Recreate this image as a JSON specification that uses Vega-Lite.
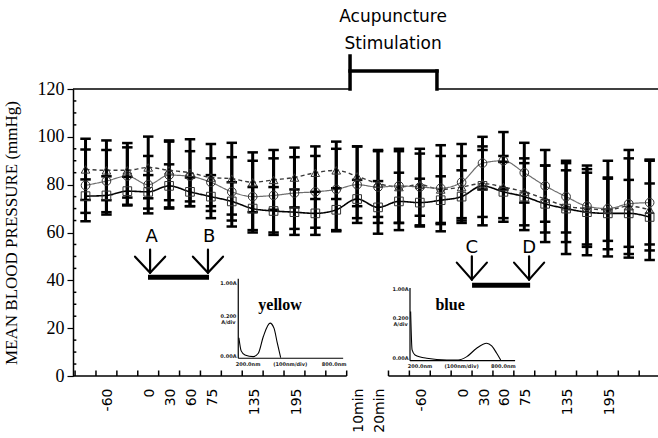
{
  "$schema": "https://vega.github.io/schema/vega-lite/v6.json",
  "width": 585,
  "height": 287,
  "autosize": "none",
  "padding": {"left": 73, "top": 89, "right": 0, "bottom": 62},
  "background": "white",
  "config": {
    "view": {"stroke": null},
    "axis": {"grid": false, "labelOverlap": false}
  },
  "datasets": {
    "bp": [
      {"slot":0,"group":"triangle","mean":86.4,"lo":73.6,"hi":99.2},{"slot":0,"group":"circle","mean":79.7,"lo":64.7,"hi":94.7},{"slot":0,"group":"square","mean":75.2,"lo":68.2,"hi":82.2},
      {"slot":1,"group":"triangle","mean":86,"lo":73.5,"hi":98.5},{"slot":1,"group":"circle","mean":81.5,"lo":68.5,"hi":94.5},{"slot":1,"group":"square","mean":75.5,"lo":67.5,"hi":83.5},
      {"slot":2,"group":"triangle","mean":86,"lo":74.6,"hi":97.4},{"slot":2,"group":"circle","mean":83.6,"lo":71.6,"hi":95.6},{"slot":2,"group":"square","mean":77.3,"lo":71.3,"hi":83.3},
      {"slot":3,"group":"triangle","mean":87.2,"lo":74.3,"hi":100.1},{"slot":3,"group":"circle","mean":80,"lo":68,"hi":92},{"slot":3,"group":"square","mean":77,"lo":70,"hi":84},
      {"slot":4,"group":"triangle","mean":86,"lo":73.5,"hi":98.5},{"slot":4,"group":"circle","mean":84,"lo":70,"hi":98},{"slot":4,"group":"square","mean":79.5,"lo":70.5,"hi":88.5},
      {"slot":5,"group":"triangle","mean":85,"lo":71,"hi":99},{"slot":5,"group":"circle","mean":83.5,"lo":73,"hi":94},{"slot":5,"group":"square","mean":77,"lo":71,"hi":83},
      {"slot":6,"group":"triangle","mean":83,"lo":69,"hi":97},{"slot":6,"group":"circle","mean":81,"lo":71,"hi":91},{"slot":6,"group":"square","mean":75,"lo":66,"hi":84},
      {"slot":7,"group":"triangle","mean":82.5,"lo":67.5,"hi":97.5},{"slot":7,"group":"circle","mean":77,"lo":62.5,"hi":91.5},{"slot":7,"group":"square","mean":73,"lo":65,"hi":81},
      {"slot":8,"group":"triangle","mean":81,"lo":68.5,"hi":93.5},{"slot":8,"group":"circle","mean":75,"lo":60,"hi":90},{"slot":8,"group":"square","mean":70,"lo":61,"hi":79},
      {"slot":9,"group":"triangle","mean":82,"lo":69.5,"hi":94.5},{"slot":9,"group":"circle","mean":75.5,"lo":60,"hi":91},{"slot":9,"group":"square","mean":69,"lo":59,"hi":79},
      {"slot":10,"group":"triangle","mean":83,"lo":70.5,"hi":95.5},{"slot":10,"group":"circle","mean":76.5,"lo":61.5,"hi":91.5},{"slot":10,"group":"square","mean":68.5,"lo":59,"hi":78},
      {"slot":11,"group":"triangle","mean":85,"lo":74,"hi":96},{"slot":11,"group":"circle","mean":77,"lo":62,"hi":92},{"slot":11,"group":"square","mean":68,"lo":59,"hi":77},
      {"slot":12,"group":"triangle","mean":86,"lo":74,"hi":98},{"slot":12,"group":"circle","mean":78,"lo":61,"hi":95},{"slot":12,"group":"square","mean":69.5,"lo":60.5,"hi":78.5},
      {"slot":13,"group":"triangle","mean":83.5,"lo":71,"hi":96},{"slot":13,"group":"circle","mean":80,"lo":64,"hi":96},{"slot":13,"group":"square","mean":74,"lo":66,"hi":82},
      {"slot":14,"group":"triangle","mean":80.5,"lo":66.5,"hi":94.5},{"slot":14,"group":"circle","mean":79,"lo":64,"hi":94},{"slot":14,"group":"square","mean":70.5,"lo":59.5,"hi":81.5},
      {"slot":15,"group":"triangle","mean":79,"lo":64,"hi":94},{"slot":15,"group":"circle","mean":79.5,"lo":64,"hi":95},{"slot":15,"group":"square","mean":73,"lo":61,"hi":85},
      {"slot":16,"group":"triangle","mean":80,"lo":67,"hi":93},{"slot":16,"group":"circle","mean":79,"lo":63,"hi":95},{"slot":16,"group":"square","mean":72.5,"lo":62.5,"hi":82.5},
      {"slot":17,"group":"triangle","mean":78,"lo":64,"hi":92},{"slot":17,"group":"circle","mean":78.5,"lo":60.5,"hi":96.5},{"slot":17,"group":"square","mean":73.5,"lo":63.5,"hi":83.5},
      {"slot":18,"group":"triangle","mean":79,"lo":66,"hi":92},{"slot":18,"group":"circle","mean":81,"lo":65,"hi":97},{"slot":18,"group":"square","mean":75,"lo":64,"hi":86},
      {"slot":19,"group":"triangle","mean":80.5,"lo":66.5,"hi":94.5},{"slot":19,"group":"circle","mean":89,"lo":78,"hi":100},{"slot":19,"group":"square","mean":79.5,"lo":63,"hi":96},
      {"slot":20,"group":"triangle","mean":79,"lo":66,"hi":92},{"slot":20,"group":"circle","mean":90,"lo":78,"hi":102},{"slot":20,"group":"square","mean":77,"lo":64.5,"hi":89.5},
      {"slot":21,"group":"triangle","mean":77,"lo":63,"hi":91},{"slot":21,"group":"circle","mean":85,"lo":72.5,"hi":97.5},{"slot":21,"group":"square","mean":75,"lo":61,"hi":89},
      {"slot":22,"group":"triangle","mean":74,"lo":60,"hi":88},{"slot":22,"group":"circle","mean":79.5,"lo":64.5,"hi":94.5},{"slot":22,"group":"square","mean":72,"lo":56,"hi":88},
      {"slot":23,"group":"triangle","mean":71,"lo":56,"hi":86},{"slot":23,"group":"circle","mean":75,"lo":60,"hi":90},{"slot":23,"group":"square","mean":70,"lo":51,"hi":89},
      {"slot":24,"group":"triangle","mean":70,"lo":55,"hi":85},{"slot":24,"group":"circle","mean":71,"lo":54,"hi":88},{"slot":24,"group":"square","mean":68.5,"lo":50.5,"hi":86.5},
      {"slot":25,"group":"triangle","mean":69.5,"lo":56.5,"hi":82.5},{"slot":25,"group":"circle","mean":70,"lo":50,"hi":90},{"slot":25,"group":"square","mean":68,"lo":53,"hi":83},
      {"slot":26,"group":"triangle","mean":71,"lo":51,"hi":91},{"slot":26,"group":"circle","mean":72,"lo":49.5,"hi":94.5},{"slot":26,"group":"square","mean":68,"lo":54,"hi":82},
      {"slot":27,"group":"triangle","mean":69.5,"lo":48.5,"hi":90.5},{"slot":27,"group":"circle","mean":72.5,"lo":55,"hi":90},{"slot":27,"group":"square","mean":66.5,"lo":52.5,"hi":80.5}
    ],
    "segs": [
      {"kind":"frame","x1":-0.6,"y1":0,"x2":12.5,"y2":0},
      {"kind":"frame","x1":14.5,"y1":0,"x2":27.4,"y2":0},
      {"kind":"frame","x1":-0.6,"y1":120,"x2":12.66,"y2":120},
      {"kind":"frame","x1":16.82,"y1":120,"x2":27.4,"y2":120},
      {"kind":"bracket","x1":12.66,"y1":120,"x2":12.66,"y2":133.8},
      {"kind":"bracket","x1":12.66,"y1":127.5,"x2":16.82,"y2":127.5},
      {"kind":"bracket","x1":16.82,"y1":127.5,"x2":16.82,"y2":120},
      {"kind":"arrow","x1":3.09,"y1":52.8,"x2":3.09,"y2":43.2},
      {"kind":"arrow","x1":2.37,"y1":49.9,"x2":3.09,"y2":43.2},
      {"kind":"arrow","x1":3.81,"y1":49.9,"x2":3.09,"y2":43.2},
      {"kind":"arrow","x1":5.86,"y1":52.8,"x2":5.86,"y2":43.2},
      {"kind":"arrow","x1":5.14,"y1":49.9,"x2":5.86,"y2":43.2},
      {"kind":"arrow","x1":6.58,"y1":49.9,"x2":5.86,"y2":43.2},
      {"kind":"arrow","x1":18.49,"y1":50.0,"x2":18.49,"y2":40.3},
      {"kind":"arrow","x1":17.77,"y1":47.4,"x2":18.49,"y2":40.3},
      {"kind":"arrow","x1":19.21,"y1":47.4,"x2":18.49,"y2":40.3},
      {"kind":"arrow","x1":21.23,"y1":50.0,"x2":21.23,"y2":40.3},
      {"kind":"arrow","x1":20.51,"y1":47.4,"x2":21.23,"y2":40.3},
      {"kind":"arrow","x1":21.95,"y1":47.4,"x2":21.23,"y2":40.3},
      {"kind":"bar","x1":2.99,"y1":41.3,"x2":5.91,"y2":41.3},
      {"kind":"bar","x1":18.5,"y1":37.9,"x2":21.28,"y2":37.9},
      {"kind":"inset","x1":7.31,"y1":7.42,"x2":7.31,"y2":40.67},
      {"kind":"inset","x1":7.31,"y1":7.42,"x2":12.33,"y2":7.42},
      {"kind":"inset","x1":15.53,"y1":6.42,"x2":15.53,"y2":36.77},
      {"kind":"inset","x1":15.53,"y1":6.42,"x2":20.56,"y2":6.42},
      {"kind":"tick","x1":-0.5,"y1":0,"x2":-0.5,"y2":2.3},{"kind":"tick","x1":0.5,"y1":0,"x2":0.5,"y2":2.3},{"kind":"tick","x1":1.5,"y1":0,"x2":1.5,"y2":2.3},{"kind":"tick","x1":2.5,"y1":0,"x2":2.5,"y2":2.3},
      {"kind":"tick","x1":3.5,"y1":0,"x2":3.5,"y2":2.3},{"kind":"tick","x1":4.5,"y1":0,"x2":4.5,"y2":2.3},{"kind":"tick","x1":5.5,"y1":0,"x2":5.5,"y2":2.3},{"kind":"tick","x1":6.5,"y1":0,"x2":6.5,"y2":2.3},
      {"kind":"tick","x1":7.5,"y1":0,"x2":7.5,"y2":2.3},{"kind":"tick","x1":8.5,"y1":0,"x2":8.5,"y2":2.3},{"kind":"tick","x1":9.5,"y1":0,"x2":9.5,"y2":2.3},{"kind":"tick","x1":10.5,"y1":0,"x2":10.5,"y2":2.3},
      {"kind":"tick","x1":11.5,"y1":0,"x2":11.5,"y2":2.3},{"kind":"tick","x1":12.5,"y1":0,"x2":12.5,"y2":2.3},
      {"kind":"tick","x1":14.5,"y1":0,"x2":14.5,"y2":2.3},{"kind":"tick","x1":15.5,"y1":0,"x2":15.5,"y2":2.3},{"kind":"tick","x1":16.5,"y1":0,"x2":16.5,"y2":2.3},{"kind":"tick","x1":17.5,"y1":0,"x2":17.5,"y2":2.3},
      {"kind":"tick","x1":18.5,"y1":0,"x2":18.5,"y2":2.3},{"kind":"tick","x1":19.5,"y1":0,"x2":19.5,"y2":2.3},{"kind":"tick","x1":20.5,"y1":0,"x2":20.5,"y2":2.3},{"kind":"tick","x1":21.5,"y1":0,"x2":21.5,"y2":2.3},
      {"kind":"tick","x1":22.5,"y1":0,"x2":22.5,"y2":2.3},{"kind":"tick","x1":23.5,"y1":0,"x2":23.5,"y2":2.3},{"kind":"tick","x1":24.5,"y1":0,"x2":24.5,"y2":2.3},{"kind":"tick","x1":25.5,"y1":0,"x2":25.5,"y2":2.3},
      {"kind":"tick","x1":26.5,"y1":0,"x2":26.5,"y2":2.3},
      {"kind":"tick","x1":-0.6,"y1":5,"x2":-0.44,"y2":5},{"kind":"tick","x1":-0.6,"y1":10,"x2":-0.44,"y2":10},{"kind":"tick","x1":-0.6,"y1":15,"x2":-0.44,"y2":15},
      {"kind":"tick","x1":-0.6,"y1":25,"x2":-0.44,"y2":25},{"kind":"tick","x1":-0.6,"y1":30,"x2":-0.44,"y2":30},{"kind":"tick","x1":-0.6,"y1":35,"x2":-0.44,"y2":35},
      {"kind":"tick","x1":-0.6,"y1":45,"x2":-0.44,"y2":45},{"kind":"tick","x1":-0.6,"y1":50,"x2":-0.44,"y2":50},{"kind":"tick","x1":-0.6,"y1":55,"x2":-0.44,"y2":55},
      {"kind":"tick","x1":-0.6,"y1":65,"x2":-0.44,"y2":65},{"kind":"tick","x1":-0.6,"y1":70,"x2":-0.44,"y2":70},{"kind":"tick","x1":-0.6,"y1":75,"x2":-0.44,"y2":75},
      {"kind":"tick","x1":-0.6,"y1":85,"x2":-0.44,"y2":85},{"kind":"tick","x1":-0.6,"y1":90,"x2":-0.44,"y2":90},{"kind":"tick","x1":-0.6,"y1":95,"x2":-0.44,"y2":95},
      {"kind":"tick","x1":-0.6,"y1":105,"x2":-0.44,"y2":105},{"kind":"tick","x1":-0.6,"y1":110,"x2":-0.44,"y2":110},{"kind":"tick","x1":-0.6,"y1":115,"x2":-0.44,"y2":115}
    ],
    "spectra": [
      {"dye":"yellow","x":7.34,"y":16.0},{"dye":"yellow","x":7.45,"y":10.5},{"dye":"yellow","x":7.63,"y":8.8},{"dye":"yellow","x":8.03,"y":8.1},{"dye":"yellow","x":8.27,"y":9.5},{"dye":"yellow","x":8.51,"y":16.5},{"dye":"yellow","x":8.83,"y":22.1},{"dye":"yellow","x":9.02,"y":20.0},{"dye":"yellow","x":9.18,"y":13.7},{"dye":"yellow","x":9.34,"y":7.7},
      {"dye":"blue","x":15.56,"y":26.96},{"dye":"blue","x":15.63,"y":10.9},{"dye":"blue","x":15.77,"y":8.81},{"dye":"blue","x":16.33,"y":7.42},{"dye":"blue","x":17.29,"y":6.71},{"dye":"blue","x":17.84,"y":6.71},{"dye":"blue","x":18.25,"y":8.09},{"dye":"blue","x":18.72,"y":11.61},{"dye":"blue","x":19.2,"y":13.71},{"dye":"blue","x":19.44,"y":12.58},{"dye":"blue","x":19.68,"y":9.52},{"dye":"blue","x":19.87,"y":6.71}
    ],
    "letters": [
      {"t":"A","x":3.17,"y":58.3},{"t":"B","x":5.92,"y":58.3},{"t":"C","x":18.49,"y":53.5},{"t":"D","x":21.23,"y":53.5}
    ],
    "dyes": [
      {"t":"yellow","x":9.31,"y":29.8},{"t":"blue","x":17.45,"y":29.8}
    ],
    "tiny": [
      {"t":"1.00A","x":6.84,"y":39.0},{"t":"0.200","x":6.84,"y":25.2},{"t":"A/div","x":6.84,"y":22.6},{"t":"0.00A","x":6.84,"y":8.2},
      {"t":"200.0nm","x":7.78,"y":5.2},{"t":"(100nm/div)","x":9.8,"y":5.2},{"t":"800.0nm","x":11.9,"y":5.2},
      {"t":"1.00A","x":15.08,"y":36.5},{"t":"0.200","x":15.08,"y":24.3},{"t":"A/div","x":15.08,"y":21.8},{"t":"0.00A","x":15.08,"y":7.4},
      {"t":"200.0nm","x":16.01,"y":4.0},{"t":"(100nm/div)","x":18.0,"y":4.0},{"t":"800.0nm","x":20.0,"y":4.0}
    ],
    "stim": [
      {"t":"Acupuncture\nStimulation","x":14.72,"y":150.0}
    ]
  },
  "layer": [
    {
      "data": {"name": "bp"},
      "mark": {"type": "line", "interpolate": "monotone"},
      "encoding": {
        "x": {"field": "slot", "type": "quantitative",
          "scale": {"domain": [-0.6, 27.4], "nice": false, "zero": false},
          "axis": {
            "title": null,
            "values": [0.5,2.5,3.5,4.5,5.5,7.5,9.5,12.5,13.5,15.5,17.5,18.5,19.5,20.5,22.5,24.5],
            "tickCount": 100,
            "labelExpr": "['','-60','','0','30','60','75','','135','','195','','','10min','20min','','-60','','0','30','60','75','','135','','195','',''][datum.value + 0.5]",
            "labelAngle": -90,
            "labelOffset": 12,
            "labelPadding": 12,
            "labelOverlap": false,
            "labelFlush": false,
            "labelBound": false,
            "labelFont": "DejaVu Sans",
            "labelFontSize": 14,
            "labelColor": "black",
            "domain": false,
            "ticks": false
          }
        },
        "y": {"field": "mean", "type": "quantitative",
          "scale": {"domain": [0, 120], "nice": false},
          "axis": {
            "title": "MEAN BLOOD PRESSURE (mmHg)",
            "titleFont": "Liberation Serif",
            "titleFontSize": 17,
            "titleFontWeight": "normal",
            "titleColor": "black",
            "titlePadding": 17,
            "values": [0,20,40,60,80,100,120],
            "tickCount": 100,
            "labelFont": "Liberation Serif",
            "labelFontSize": 18,
            "labelColor": "black",
            "labelPadding": 3,
            "tickSize": 6,
            "tickWidth": 1.2,
            "tickColor": "black",
            "domainColor": "black",
            "domainWidth": 1.5
          }
        },
        "detail": {"field": "group"},
        "color": {"field": "group", "type": "nominal", "legend": null,
          "scale": {"domain": ["circle", "triangle", "square"], "range": ["#6e6e6e", "#3a3a3a", "#000000"]}},
        "strokeWidth": {"field": "group", "type": "nominal", "legend": null,
          "scale": {"domain": ["circle", "triangle", "square"], "range": [1.2, 1.6, 2.6]}},
        "strokeDash": {"field": "group", "type": "nominal", "legend": null,
          "scale": {"domain": ["circle", "triangle", "square"], "range": [[1, 0], [4, 3], [1, 0]]}}
      }
    },
    {
      "data": {"name": "bp"},
      "mark": {"type": "rule", "color": "black", "strokeWidth": 3},
      "encoding": {
        "x": {"field": "slot", "type": "quantitative"},
        "y": {"field": "lo", "type": "quantitative"},
        "y2": {"field": "hi"}
      }
    },
    {
      "data": {"name": "bp"},
      "mark": {"type": "point", "shape": "M-1,0L1,0", "size": 110, "strokeWidth": 2.5, "color": "black", "filled": false, "opacity": 1},
      "encoding": {
        "x": {"field": "slot", "type": "quantitative"},
        "y": {"field": "hi", "type": "quantitative"}
      }
    },
    {
      "data": {"name": "bp"},
      "mark": {"type": "point", "shape": "M-1,0L1,0", "size": 110, "strokeWidth": 2.5, "color": "black", "filled": false, "opacity": 1},
      "encoding": {
        "x": {"field": "slot", "type": "quantitative"},
        "y": {"field": "lo", "type": "quantitative"}
      }
    },
    {
      "data": {"name": "bp"},
      "mark": {"type": "point", "filled": false, "size": 75, "strokeWidth": 1, "stroke": "#333333", "opacity": 1},
      "encoding": {
        "x": {"field": "slot", "type": "quantitative"},
        "y": {"field": "mean", "type": "quantitative"},
        "shape": {"field": "group", "type": "nominal", "legend": null,
          "scale": {"domain": ["circle", "triangle", "square"], "range": ["circle", "triangle-up", "square"]}}
      }
    },
    {
      "data": {"name": "segs"},
      "transform": [{"filter": "datum.kind === 'tick'"}],
      "mark": {"type": "rule", "color": "black", "strokeWidth": 1.5},
      "encoding": {
        "x": {"field": "x1", "type": "quantitative"},
        "y": {"field": "y1", "type": "quantitative"},
        "x2": {"field": "x2"},
        "y2": {"field": "y2"}
      }
    },
    {
      "data": {"name": "segs"},
      "transform": [{"filter": "datum.kind === 'frame'"}],
      "mark": {"type": "rule", "color": "black", "strokeWidth": 1.5},
      "encoding": {
        "x": {"field": "x1", "type": "quantitative"},
        "y": {"field": "y1", "type": "quantitative"},
        "x2": {"field": "x2"},
        "y2": {"field": "y2"}
      }
    },
    {
      "data": {"name": "segs"},
      "transform": [{"filter": "datum.kind === 'bracket'"}],
      "mark": {"type": "rule", "color": "black", "strokeWidth": 3.5, "strokeCap": "square"},
      "encoding": {
        "x": {"field": "x1", "type": "quantitative"},
        "y": {"field": "y1", "type": "quantitative"},
        "x2": {"field": "x2"},
        "y2": {"field": "y2"}
      }
    },
    {
      "data": {"name": "segs"},
      "transform": [{"filter": "datum.kind === 'arrow'"}],
      "mark": {"type": "rule", "color": "black", "strokeWidth": 2.2, "strokeCap": "round"},
      "encoding": {
        "x": {"field": "x1", "type": "quantitative"},
        "y": {"field": "y1", "type": "quantitative"},
        "x2": {"field": "x2"},
        "y2": {"field": "y2"}
      }
    },
    {
      "data": {"name": "segs"},
      "transform": [{"filter": "datum.kind === 'bar'"}],
      "mark": {"type": "rule", "color": "black", "strokeWidth": 5},
      "encoding": {
        "x": {"field": "x1", "type": "quantitative"},
        "y": {"field": "y1", "type": "quantitative"},
        "x2": {"field": "x2"},
        "y2": {"field": "y2"}
      }
    },
    {
      "data": {"name": "segs"},
      "transform": [{"filter": "datum.kind === 'inset'"}],
      "mark": {"type": "rule", "color": "black", "strokeWidth": 1.2},
      "encoding": {
        "x": {"field": "x1", "type": "quantitative"},
        "y": {"field": "y1", "type": "quantitative"},
        "x2": {"field": "x2"},
        "y2": {"field": "y2"}
      }
    },
    {
      "data": {"name": "spectra"},
      "mark": {"type": "line", "color": "black", "strokeWidth": 1.1, "interpolate": "monotone"},
      "encoding": {
        "x": {"field": "x", "type": "quantitative"},
        "y": {"field": "y", "type": "quantitative"},
        "detail": {"field": "dye"}
      }
    },
    {
      "data": {"name": "letters"},
      "mark": {"type": "text", "font": "DejaVu Sans", "fontSize": 18, "color": "black", "align": "center", "baseline": "middle"},
      "encoding": {
        "x": {"field": "x", "type": "quantitative"},
        "y": {"field": "y", "type": "quantitative"},
        "text": {"field": "t"}
      }
    },
    {
      "data": {"name": "dyes"},
      "mark": {"type": "text", "font": "Liberation Serif", "fontSize": 16, "fontWeight": "bold", "color": "black", "align": "center", "baseline": "middle"},
      "encoding": {
        "x": {"field": "x", "type": "quantitative"},
        "y": {"field": "y", "type": "quantitative"},
        "text": {"field": "t"}
      }
    },
    {
      "data": {"name": "tiny"},
      "mark": {"type": "text", "font": "DejaVu Sans", "fontSize": 5, "fontWeight": "bold", "color": "#222222", "align": "center", "baseline": "middle"},
      "encoding": {
        "x": {"field": "x", "type": "quantitative"},
        "y": {"field": "y", "type": "quantitative"},
        "text": {"field": "t"}
      }
    },
    {
      "data": {"name": "stim"},
      "mark": {"type": "text", "font": "DejaVu Sans", "fontSize": 17, "color": "black", "align": "center", "baseline": "middle", "lineBreak": "\n", "lineHeight": 27},
      "encoding": {
        "x": {"field": "x", "type": "quantitative"},
        "y": {"field": "y", "type": "quantitative"},
        "text": {"field": "t"}
      }
    }
  ]
}
